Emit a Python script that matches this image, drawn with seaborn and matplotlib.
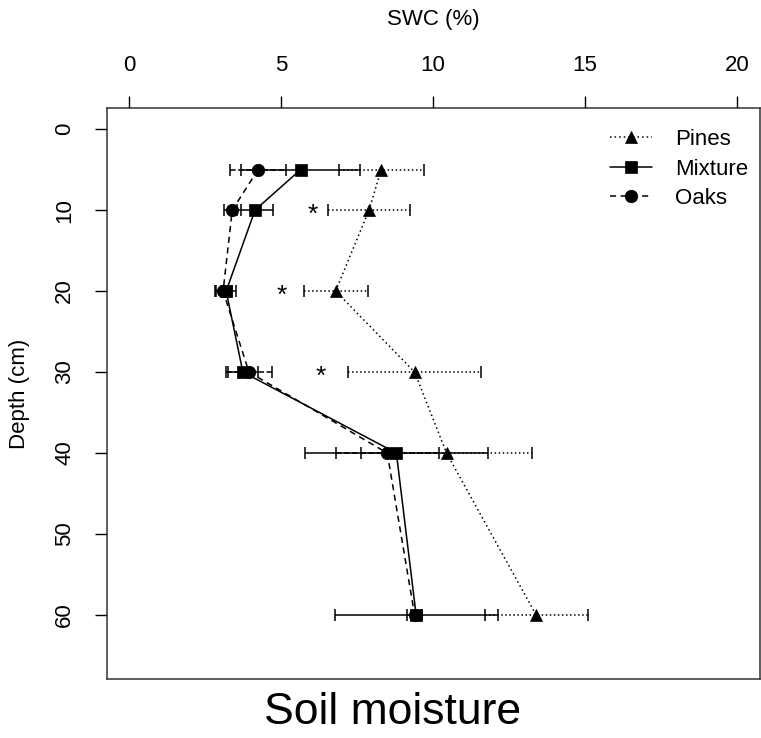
import seaborn as sns
import pandas as pd
import matplotlib
matplotlib.use("Agg")
from matplotlib import pyplot as plt

# soil water content by depth, three stand types
depths = [5, 10, 20, 30, 40, 60]
stands = ["Pines", "Mixture", "Oaks"]
pines = [8.3, 7.9, 6.8, 9.4, 10.45, 13.4]
pines_err = [1.4, 1.35, 1.05, 2.2, 2.8, 1.7]
mixture = [5.65, 4.15, 3.2, 3.75, 8.8, 9.45]
mixture_err = [1.95, 0.6, 0.32, 0.5, 3.0, 2.68]
oaks = [4.25, 3.4, 3.1, 3.95, 8.5, 9.4]
oaks_err = [0.92, 0.28, 0.28, 0.75, 1.7, 0.25]

# significance marks
star_depth = [10, 20, 30]
star_swc = [6.05, 5.03, 6.3]

x_ticks = [0, 5, 10, 15, 20]
y_ticks = [0, 10, 20, 30, 40, 50, 60]

df = pd.DataFrame({
    "depth": depths * 3,
    "swc": pines + mixture + oaks,
    "err": pines_err + mixture_err + oaks_err,
    "stand": [s for s in stands for _ in depths],
})

sns.set_style("ticks")
plt.rcParams["font.family"] = ["Liberation Sans", "DejaVu Sans"]
plt.rcParams["text.color"] = "black"
plt.rcParams["axes.labelcolor"] = "black"
plt.rcParams["xtick.color"] = "black"
plt.rcParams["ytick.color"] = "black"

fig = plt.figure(figsize=(7.61, 7.38), dpi=100)
ax = fig.add_axes([0.1406, 0.0799, 0.858, 0.7737])

line_styles = {"Pines": ":", "Mixture": "-", "Oaks": "--"}
dash_map = {"Pines": (1, 2), "Mixture": "", "Oaks": (4, 3)}
marker_map = {"Pines": "^", "Mixture": "s", "Oaks": "o"}

for s in stands:
    sub = df[df["stand"] == s]
    eb = ax.errorbar(sub["swc"], sub["depth"], xerr=sub["err"], fmt="none",
                     ecolor="black", elinewidth=1.1, capsize=4.5, capthick=1.1)
    eb[2][0].set_linestyle(line_styles[s])

sns.lineplot(data=df, x="swc", y="depth", hue="stand", style="stand",
             hue_order=stands, style_order=stands,
             palette={s: "black" for s in stands},
             dashes=dash_map, markers=marker_map, markersize=9,
             markeredgecolor="black", markeredgewidth=0.5,
             linewidth=1.1, estimator=None, orient="y", ax=ax)

# mixture squares sit on top of the oak circles
for ln in ax.lines:
    if ln.get_marker() == "s":
        ln.set_zorder(4)

for xs, ys in zip(star_swc, star_depth):
    ax.text(xs, ys + 0.6, "*", ha="center", va="center", fontsize=19)

handles, labels = ax.get_legend_handles_labels()
for h in handles:
    h.set_markeredgecolor("black")
ax.legend(handles, labels, loc="upper right", bbox_to_anchor=(1.012, 0.998),
          frameon=False, fontsize=16, handlelength=1.9, handletextpad=1.0,
          labelspacing=0.38)

ax.set_xlim(-0.72, 20.76)
ax.set_ylim(67.9, -2.6)
ax.set_xticks(x_ticks)
ax.set_yticks(y_ticks)
ax.xaxis.tick_top()
ax.xaxis.set_label_position("top")
ax.set_xlabel("SWC (%)", fontsize=16, labelpad=22)
ax.set_ylabel("Depth (cm)", fontsize=16, labelpad=17)
ax.tick_params(axis="both", labelsize=16, length=9, width=1, color="black", pad=14)
ax.tick_params(axis="y", labelrotation=90)
for lab in ax.get_yticklabels():
    lab.set_va("center")
for sp in ax.spines.values():
    sp.set_visible(True)
    sp.set_linewidth(1.1)
    sp.set_color("#333333")

fig.text(393 / 761, 1 - 712 / 738, "Soil moisture", ha="center", va="center",
         fontsize=32)

fig.savefig("out.png", dpi=100)
